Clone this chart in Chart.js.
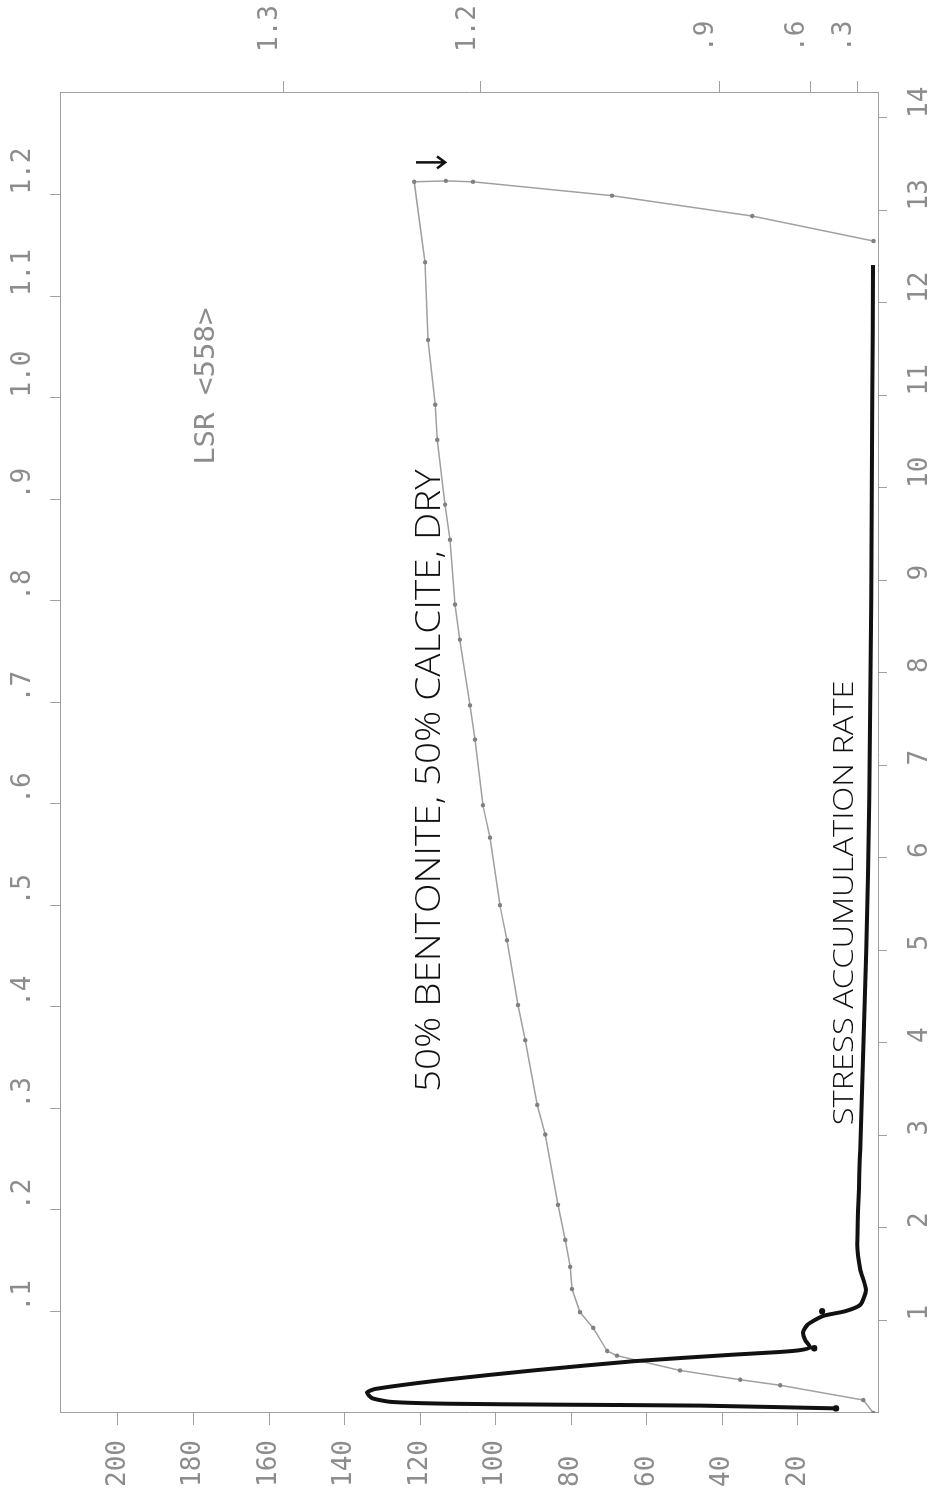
<!DOCTYPE html>
<html>
<head>
<meta charset="utf-8">
<script src="https://cdn.jsdelivr.net/npm/chart.js@4.4.1/dist/chart.umd.min.js"></script>
<style>
  html, body { margin: 0; padding: 0; background: #fff; overflow: hidden; }
  /* the plot is drawn upright, then the whole sheet is turned a quarter turn left */
  #sheet {
    position: absolute; left: 0; top: 0; width: 1495px; height: 949px;
    transform-origin: 0 0;
    transform: translateY(1495px) rotate(-90deg);
  }
</style>
</head>
<body>
<div id="sheet"><canvas id="plot" width="1495" height="949"></canvas></div>
<script>
// axis ticks
var timeTicks = [1, 2, 3, 4, 5, 6, 7, 8, 9, 10, 11, 12, 13, 14];
var stressTicks = [20, 40, 60, 80, 100, 120, 140, 160, 180, 200];
var ratioTicks = [0.1, 0.2, 0.3, 0.4, 0.5, 0.6, 0.7, 0.8, 0.9, 1.0, 1.1, 1.2];
var ratioLabels = ['.1', '.2', '.3', '.4', '.5', '.6', '.7', '.8', '.9', '1.0', '1.1', '1.2'];
var rightTicks = [156.3, 103.9, 40.8, 16.8, 4.2];
var rightLabels = ['1.3', '1.2', '.9', '.6', '.3'];

// 50% bentonite, 50% calcite, dry
var bentTime = [0, 0.14, 0.30, 0.36, 0.46, 0.62, 0.67, 0.92, 1.09, 1.34, 1.58, 1.87, 2.25, 3.01, 3.33, 4.03, 4.41,
  5.11, 5.49, 6.22, 6.57, 7.28, 7.65, 8.36, 8.74, 9.44, 9.82, 10.52, 10.90, 11.60, 12.44, 13.31, 13.32, 13.31,
  13.16, 12.94, 12.67];
var bentStress = [0, 2.7, 24.7, 35.3, 51.2, 67.9, 70.5, 74.2, 77.7, 79.8, 80.3, 81.6, 83.5, 86.9, 89.0, 92.2, 94.1,
  97.0, 98.9, 101.5, 103.4, 105.5, 106.8, 109.5, 110.8, 112.1, 113.4, 115.5, 116.0, 117.9, 118.7, 121.6, 113.2, 106.0,
  69.2, 32.1, 0];

// stress accumulation rate
var rateTime = [0.05, 0.08, 0.09, 0.10, 0.12, 0.16, 0.22, 0.26, 0.36, 0.46, 0.56, 0.63, 0.66, 0.68, 0.71, 0.79, 0.88,
  0.96, 1.05, 1.10, 1.17, 1.33, 1.55, 1.82, 2.84, 3.92, 5.0, 6.63, 8.79, 10.95, 12.41];
var rateStress = [9.9, 45.9, 82.9, 112.0, 127.7, 132.7, 134.1, 131.9, 113.4, 90.1, 63.4, 37.4, 24.7, 19.4, 16.8, 18.1,
  18.6, 17.3, 13.3, 7.5, 3.5, 2.0, 3.5, 4.3, 3.5, 2.7, 1.9, 1.1, 0.6, 0.3, 0.1];
var rateDotTime = [0.05, 0.70, 1.10];
var rateDotStress = [9.9, 15.7, 13.6];

var grey = '#a0a0a0';
var tickFont = { family: 'DejaVu Sans Mono', size: 26 };

function pts(xs, ys) {
  return xs.map(function (x, i) { return { x: x, y: ys[i] }; });
}

var notes = [
  { text: '50% BENTONITE, 50% CALCITE, DRY', t0: 3.47, t1: 10.2, s: 114.8, font: '300 34px "Open Sans"', color: '#111' },
  { text: 'STRESS ACCUMULATION RATE', t0: 3.11, t1: 7.92, s: 5.5, font: '300 27px "Open Sans"', color: '#111' },
  { text: 'LSR <558>', t0: 10.25, t1: 11.95, s: 174.6, font: '26px "DejaVu Sans Mono"', color: '#8c8c8c' }
];
var arrowNote = { t: 13.52, from: 121.1, to: 113.4 };

var annotate = {
  id: 'annotate',
  afterDatasetsDraw: function (chart) {
    var ctx = chart.ctx, xs = chart.scales.x, ys = chart.scales.y;
    ctx.save();
    notes.forEach(function (n) {
      ctx.font = n.font;
      ctx.fillStyle = n.color;
      ctx.textBaseline = 'alphabetic';
      var x0 = xs.getPixelForValue(n.t0), x1 = xs.getPixelForValue(n.t1);
      var w = ctx.measureText(n.text).width;
      ctx.save();
      ctx.translate(x0, ys.getPixelForValue(n.s));
      ctx.scale((x1 - x0) / w, 1);
      ctx.fillText(n.text, 0, 0);
      ctx.restore();
    });
    // hand drawn arrow
    var ax = xs.getPixelForValue(arrowNote.t);
    var ay0 = ys.getPixelForValue(arrowNote.from), ay1 = ys.getPixelForValue(arrowNote.to);
    ctx.strokeStyle = '#111';
    ctx.lineWidth = 2.5;
    ctx.beginPath();
    ctx.moveTo(ax, ay0); ctx.lineTo(ax, ay1);
    ctx.moveTo(ax - 6, ay1 - 8); ctx.lineTo(ax, ay1); ctx.lineTo(ax + 6, ay1 - 8);
    ctx.stroke();
    ctx.restore();
  }
};

function fixedTicks(values) {
  return function (scale) { scale.ticks = values.map(function (v) { return { value: v }; }); };
}

new Chart(document.getElementById('plot').getContext('2d'), {
  type: 'line',
  data: {
    datasets: [{
      label: 'Stress accumulation rate',
      data: pts(rateTime, rateStress),
      borderColor: '#111',
      borderWidth: 4,
      pointRadius: 0,
      tension: 0.2,
      order: 0
    }, {
      label: 'Rate dots',
      data: pts(rateDotTime, rateDotStress),
      showLine: false,
      pointRadius: 3.2,
      pointBackgroundColor: '#111',
      pointBorderWidth: 0,
      order: 0
    }, {
      label: '50% bentonite, 50% calcite, dry',
      data: pts(bentTime, bentStress),
      borderColor: grey,
      borderWidth: 1.5,
      pointRadius: 2.2,
      pointBackgroundColor: '#808080',
      pointBorderWidth: 0,
      tension: 0,
      order: 1
    }]
  },
  options: {
    responsive: false,
    animation: false,
    layout: { padding: { left: 8, right: 0, top: 0, bottom: 0 } },
    plugins: { legend: { display: false }, tooltip: { enabled: false } },
    scales: {
      x: {
        type: 'linear', position: 'bottom', min: 0, max: 14.27,
        afterBuildTicks: fixedTicks(timeTicks),
        afterFit: function (s) { s.height = 71; },
        ticks: { align: 'start', padding: 18, font: tickFont, color: '#8c8c8c', maxRotation: 0,
          callback: function (v) { return String(v); } },
        grid: { drawOnChartArea: false, tickLength: 9, color: grey },
        border: { color: grey }
      },
      x2: {
        type: 'linear', position: 'top', min: 0, max: 1.3,
        afterBuildTicks: fixedTicks(ratioTicks),
        afterFit: function (s) { s.height = 60; },
        ticks: { align: 'start', padding: 11, font: tickFont, color: '#8c8c8c', maxRotation: 0,
          callback: function (v, i) { return ratioLabels[i]; } },
        grid: { drawOnChartArea: false, tickLength: 10, color: grey },
        border: { color: grey }
      },
      y: {
        type: 'linear', position: 'left', min: -1.2, max: 215.3,
        afterBuildTicks: fixedTicks(stressTicks),
        afterFit: function (s) { s.width = 74; },
        ticks: { crossAlign: 'far', font: tickFont, color: '#8c8c8c',
          callback: function (v) { return String(v); } },
        grid: { drawOnChartArea: false, tickLength: 12, color: grey },
        border: { color: grey }
      },
      y2: {
        type: 'linear', position: 'right', min: -1.2, max: 215.3,
        afterBuildTicks: fixedTicks(rightTicks),
        afterFit: function (s) { s.width = 93; },
        ticks: { align: 'end', padding: 29, font: tickFont, color: '#8c8c8c',
          callback: function (v, i) { return rightLabels[i]; } },
        grid: { drawOnChartArea: false, tickLength: 12, color: grey },
        border: { color: grey }
      }
    }
  },
  plugins: [annotate]
});
</script>
</body>
</html>
